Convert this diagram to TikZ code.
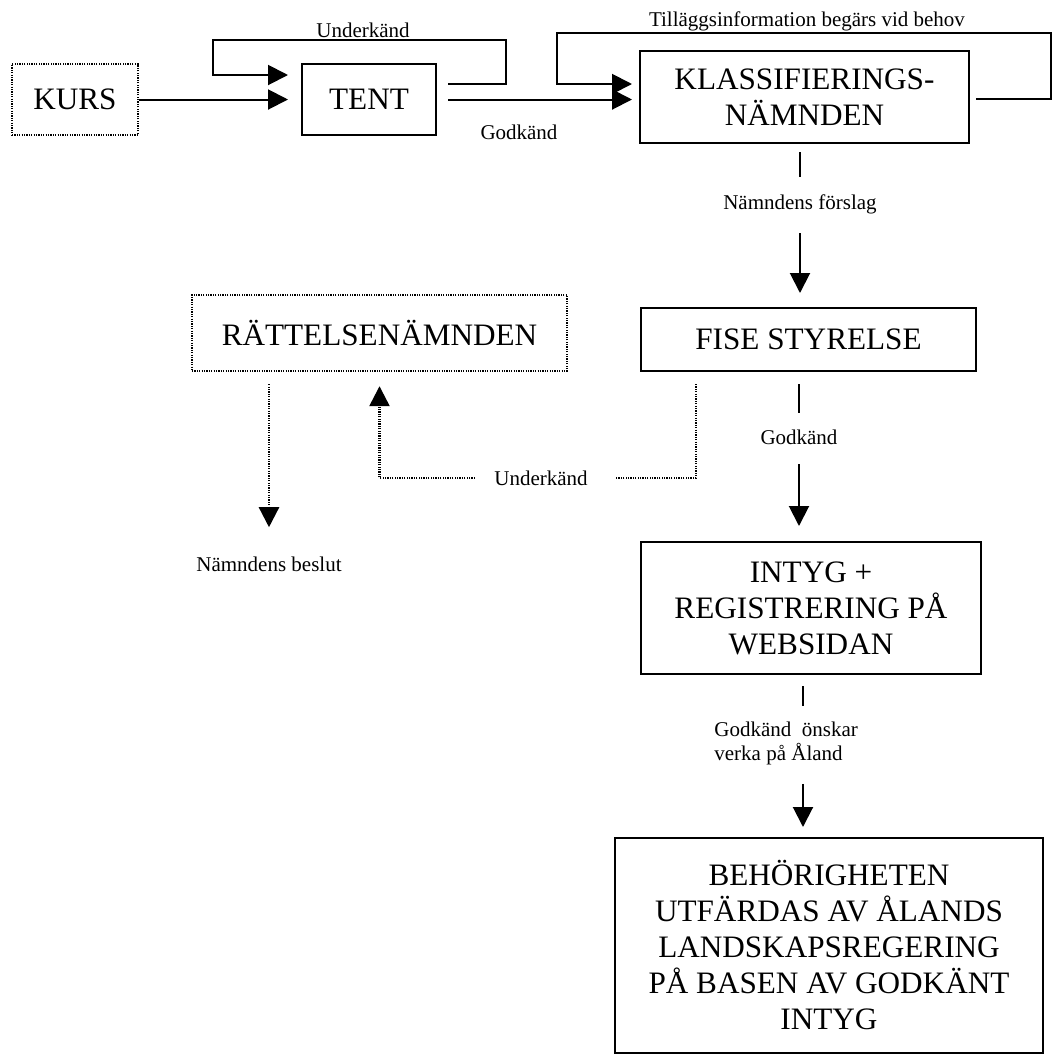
\documentclass[tikz,border=0pt]{standalone}
\usepackage{fontspec}
\setmainfont{Liberation Serif}
\usepackage{tikz}
\usetikzlibrary{arrows.meta,positioning,calc}
\tikzset{
  >={Triangle[length=10pt,width=10pt]},
  box/.style={draw, line width=1pt, align=center, inner sep=0pt,
              font=\fontsize{15.6}{18}\selectfont},
  dotbox/.style={box, line width=1.2pt, dash pattern=on 0.6pt off 0.6pt},
  lbl/.style={inner sep=0pt, font=\fontsize{10.5}{12}\selectfont},
  conn/.style={line width=1pt},
  dotconn/.style={line width=1.2pt, dash pattern=on 0.6pt off 0.6pt}
}

\begin{document}
\begin{tikzpicture}[x=0.5pt,y=-0.5pt]
      \useasboundingbox (0,0) rectangle (1055,1057);

      % Draw the boxes.
      \node[dotbox, minimum width=63pt, minimum height=35.5pt] (kurs) at (75,99.5) {KURS};
      \node[box, minimum width=67pt, minimum height=35.5pt] (tent) at (369,99.5) {TENT};
      \node[box, minimum width=164.5pt, minimum height=46pt] (klass) at (804.5,97)
      {KLASSIFIERINGS-\\NÄMNDEN};
      \node[dotbox, minimum width=187.5pt, minimum height=38pt] (ratt) at (379.5,333) {RÄTTELSENÄMNDEN};
      \node[box, minimum width=167.5pt, minimum height=31.5pt] (fise) at (808.5,339.5) {FISE STYRELSE};
      \node[box, minimum width=170pt, minimum height=66pt] (intyg) at (811,608)
      {INTYG +\\REGISTRERING PÅ\\WEBSIDAN};
      \node[box, minimum width=214pt, minimum height=107.5pt] (beh) at (829,945.5)
      {BEHÖRIGHETEN\\UTFÄRDAS AV ÅLANDS\\LANDSKAPSREGERING\\PÅ BASEN AV GODKÄNT\\INTYG};

      % Labels on the connectors.
      \node[lbl] (lunder) at (363,30) {Underkänd};
      \node[lbl] (lgod) at (519,132.5) {Godkänd};
      \node[lbl] (ltill) at (807,21) {Tilläggsinformation begärs vid behov};
      \node[lbl] (lforslag) at (800,204) {Nämndens förslag};
      \node[lbl] (lgodfise) at (799,437.5) {Godkänd};
      \node[lbl, align=left, anchor=west] (lalan) at (714,743) {Godkänd\ \ önskar\\verka på Åland};
      \node[lbl] (lunderfise) at (541,478) {Underkänd};
      \node[lbl] (lbeslut) at (269,564) {Nämndens beslut};
      \coordinate (alanx) at (803,743);

      % Course to exam, and the failed exam loop.
      \draw[conn,->,shorten >=6.5pt] (kurs) -- (tent);
      \coordinate (underR) at (506,40);
      \coordinate (underL) at (213,40);
      \draw[conn,->] ([shift={(11,-15.5)}]tent.east) -| (underR) -- (underL)
      |- ([shift={(-13,-24.5)}]tent.west);

      % Passed exam to the committee.
      \draw[conn,->,shorten <=5.5pt,shorten >=3.5pt] (tent.east) -- (tent.east -| klass.west);

      % Additional information loop.
      \coordinate (tillR) at (1051,33);
      \coordinate (tillL) at (557,33);
      \draw[conn,->] ([shift={(6,2)}]klass.east) -| (tillR) -- (tillL)
      |- ([shift={(-7,-13)}]klass.west);

      % Committee to board.
      \draw[conn,shorten <=4pt,shorten >=8.5pt] (klass.south -| lforslag) -- (lforslag);
      \draw[conn,->,shorten <=9.5pt,shorten >=7pt] (lforslag) -- (lforslag |- fise.north);

      % Board to certificate.
      \draw[conn,shorten <=6pt,shorten >=8.5pt] (fise.south -| lgodfise) -- (lgodfise);
      \draw[conn,->,shorten <=9.5pt,shorten >=7.5pt] (lgodfise) -- (lgodfise |- intyg.north);

      % Certificate to authority.
      \draw[conn,shorten <=5.5pt,shorten >=7.5pt] (intyg.south -| alanx) -- (lalan.north -| alanx);
      \draw[conn,->,shorten <=9.5pt,shorten >=5pt] (lalan.south -| alanx) -- (beh.north -| alanx);

      % Failed at board, to the appeals committee.
      \draw[dotconn,shorten <=6pt,shorten >=13.5pt] ([shift={(-112.5,0)}]fise.south) |- (lunderfise);
      \draw[dotconn,->,shorten <=9.5pt,shorten >=7pt] (lunderfise) -| (ratt);
      \draw[dotconn,->,shorten <=6pt,shorten >=14.5pt] (ratt.south -| lbeslut) -- (lbeslut);

    \end{tikzpicture}
\end{document}
